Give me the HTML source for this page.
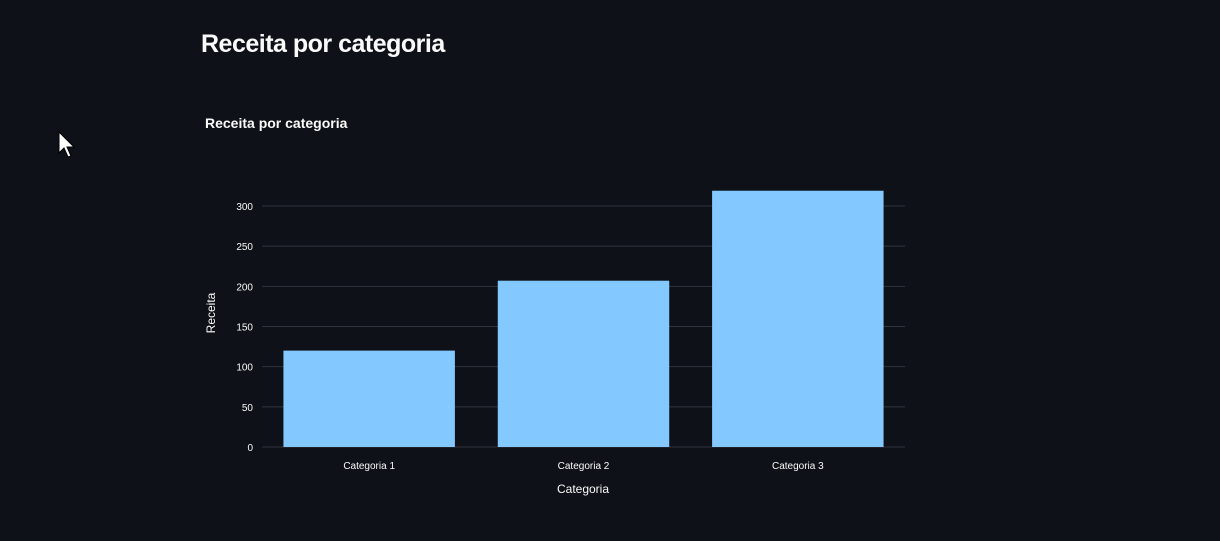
<!DOCTYPE html>
<html><head><meta charset="utf-8"><style>
html,body{margin:0;padding:0;background:#0e1117;width:1220px;height:541px;overflow:hidden;font-family:"Liberation Sans",sans-serif;}
h1{position:absolute;left:201px;top:30px;margin:0;font-size:25px;font-weight:bold;color:#fafafa;letter-spacing:-0.5px;}
</style></head><body>
<h1>Receita por categoria</h1>
<svg style="position:absolute;left:58px;top:131px" width="20" height="28"><path d="M1,1 L1,22 L6,17 L10,26 L13,25 L9,16 L16,16 Z" fill="#fff" stroke="#000" stroke-width="1"/></svg>
<svg id="chart" width="1220" height="541" style="position:absolute;left:0;top:0"></svg>
<script>
const categories=["Categoria 1","Categoria 2","Categoria 3"];
const values=[120,207,319];
const ticks=[0,50,100,150,200,250,300];
const NS="http://www.w3.org/2000/svg";
const svg=document.getElementById("chart");
const x0=262,x1=905,y0=447,yPer=241/300;
const y=v=>y0-v*yPer;
const band=(x1-x0)/categories.length;
function mk(t,a){const e=document.createElementNS(NS,t);for(const k in a)e.setAttribute(k,a[k]);svg.appendChild(e);return e;}
let t=mk("text",{x:205,y:128,fill:"#fafafa","font-size":"14","font-weight":"bold"});t.textContent="Receita por categoria";


ticks.forEach(v=>{
 const l=mk("line",{x1:x0,x2:x1,y1:y(v),y2:y(v),stroke:"#31333f","stroke-width":1});
 
 
 const tx=mk("text",{x:253,y:y(v)+4,fill:"#fafafa","font-size":"10","text-anchor":"end"});
 tx.textContent=v;
 
 
});
categories.forEach((c,i)=>{
 const bx=x0+band*i+band*0.1,bw=band*0.8;
 const r=mk("rect",{x:bx,y:y(values[i]),width:bw,height:y0-y(values[i]),fill:"#83c9ff"});
 
 
 const tx=mk("text",{x:x0+band*(i+0.5),y:469,fill:"#fafafa","font-size":"10","text-anchor":"middle"});
 tx.textContent=c;
 
 
});
let xt=mk("text",{x:583,y:493,fill:"#fafafa","font-size":"12","text-anchor":"middle"});xt.textContent="Categoria";


let yt=mk("text",{x:0,y:0,fill:"#fafafa","font-size":"12","text-anchor":"middle",transform:"translate(215,313) rotate(-90)"});yt.textContent="Receita";


</script>
</body></html>
